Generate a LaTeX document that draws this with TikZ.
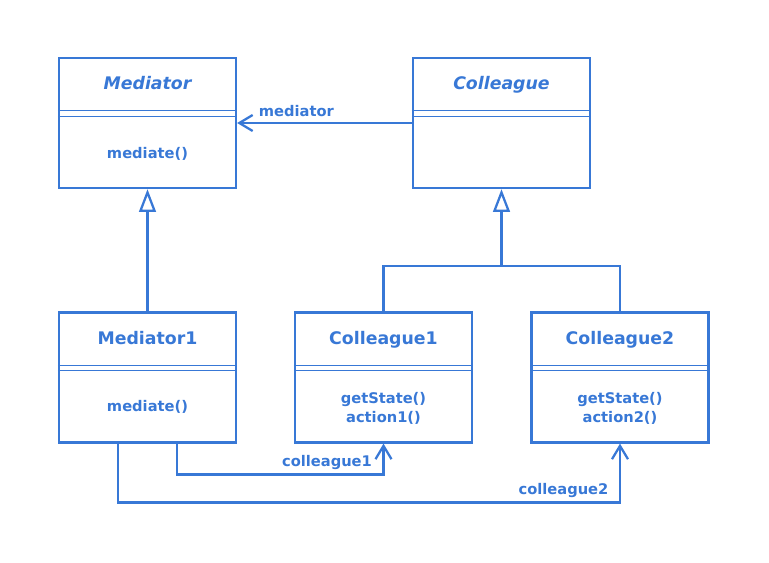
\documentclass[tikz,border=0pt]{standalone}
\usepackage{fontspec}
\setmainfont{DejaVu Sans}
\usepackage{tikz}
\usetikzlibrary{calc}
\usetikzlibrary{arrows.meta}
\usepackage{xcolor}
\definecolor{umlblue}{RGB}{56,120,214}

\begin{document}
\begin{tikzpicture}[x=0.75pt,y=-0.75pt]

\def\lwbox{1.7pt}
\def\lwsep{0.9pt}
\def\sepa{54}
\def\sepb{59.5}

\tikzset{
classbox/.style = {draw=umlblue, line width=\lwbox, minimum width=132.75pt, minimum height=97.5pt, inner sep=0pt},
classname/.style = {text=umlblue, font=\fontsize{13}{15}\selectfont\bfseries, inner sep=0pt, anchor=base},
abstractname/.style = {classname, font=\fontsize{13}{15}\selectfont\bfseries\itshape},
methods/.style = {text=umlblue, font=\fontsize{11}{14.2}\selectfont\bfseries, align=center, inner sep=0pt},
rolelabel/.style = {text=umlblue, font=\fontsize{11}{13}\selectfont\bfseries, inner sep=2pt},
link/.style = {draw=umlblue, line width=\lwbox},
inherit/.style = {link, -{Triangle[open, length=17pt, width=12.5pt]}},
assoc/.style = {link, -{Straight Barb[length=10pt, width=12pt]}},
}

\useasboundingbox (0,0) rectangle (769,563);

%\draw [help lines, step=50] (0,0) grid (769,563);

\node[classbox] (med) at (147.5,123) {};
\node[classbox] (col) at (501.5,123) {};
\node[classbox] (med1) at (147.5,377.5) {};
\node[classbox] (col1) at (383.5,377.5) {};
\node[classbox] (col2) at (620,377.5) {};

\draw[color=umlblue, line width=\lwsep] ($(med.north west)+(0,\sepa)$) -- ($(med.north east)+(0,\sepa)$);
\draw[color=umlblue, line width=\lwsep] ($(med.north west)+(0,\sepb)$) -- ($(med.north east)+(0,\sepb)$);
\draw[color=umlblue, line width=\lwsep] ($(col.north west)+(0,\sepa)$) -- ($(col.north east)+(0,\sepa)$);
\draw[color=umlblue, line width=\lwsep] ($(col.north west)+(0,\sepb)$) -- ($(col.north east)+(0,\sepb)$);
\draw[color=umlblue, line width=\lwsep] ($(med1.north west)+(0,\sepa)$) -- ($(med1.north east)+(0,\sepa)$);
\draw[color=umlblue, line width=\lwsep] ($(med1.north west)+(0,\sepb)$) -- ($(med1.north east)+(0,\sepb)$);
\draw[color=umlblue, line width=\lwsep] ($(col1.north west)+(0,\sepa)$) -- ($(col1.north east)+(0,\sepa)$);
\draw[color=umlblue, line width=\lwsep] ($(col1.north west)+(0,\sepb)$) -- ($(col1.north east)+(0,\sepb)$);
\draw[color=umlblue, line width=\lwsep] ($(col2.north west)+(0,\sepa)$) -- ($(col2.north east)+(0,\sepa)$);
\draw[color=umlblue, line width=\lwsep] ($(col2.north west)+(0,\sepb)$) -- ($(col2.north east)+(0,\sepb)$);

\node[abstractname] (medT) at ($(med.north)+(0,33)$) {Mediator};
\node[methods] (medM) at ($(med.north)+(0,97)$) {mediate()};
\node[abstractname] (colT) at ($(col.north)+(0,33)$) {Colleague};
\node[classname] (med1T) at ($(med1.north)+(0,33)$) {Mediator1};
\node[methods] (med1M) at ($(med1.north)+(0,96)$) {mediate()};
\node[classname] (col1T) at ($(col1.north)+(0,33)$) {Colleague1};
\node[methods] (col1M) at ($(col1.north)+(0,97)$) {getState()\\action1()};
\node[classname] (col2T) at ($(col2.north)+(0,33)$) {Colleague2};
\node[methods] (col2M) at ($(col2.north)+(0,97)$) {getState()\\action2()};

% generalisations
\draw[inherit] (med1.north) -- (med.south);
\coordinate (gen) at ($(col.south)+(0,77)$);
\draw[link] (col1.north) |- (gen) -| (col2.north);
\draw[inherit] (gen) -- (col.south);

% associations
\draw[assoc] (col.west) -- (med.east) node[rolelabel, anchor=south west, xshift=13.5pt, yshift=2pt] (lblmed) {mediator};
\draw[assoc] ($(med1.south)+(29.5,0)$) |- ($(col1.south)+(0,31)$) node[rolelabel, anchor=south east, xshift=-5.9pt, yshift=1pt] (lblc1) {colleague1} -- (col1.south);
\draw[assoc] ($(med1.south)+(-29.5,0)$) |- ($(col2.south)+(0,59)$) node[rolelabel, anchor=south east, xshift=-5.9pt, yshift=1pt] (lblc2) {colleague2} -- (col2.south);

\end{tikzpicture}
\end{document}
